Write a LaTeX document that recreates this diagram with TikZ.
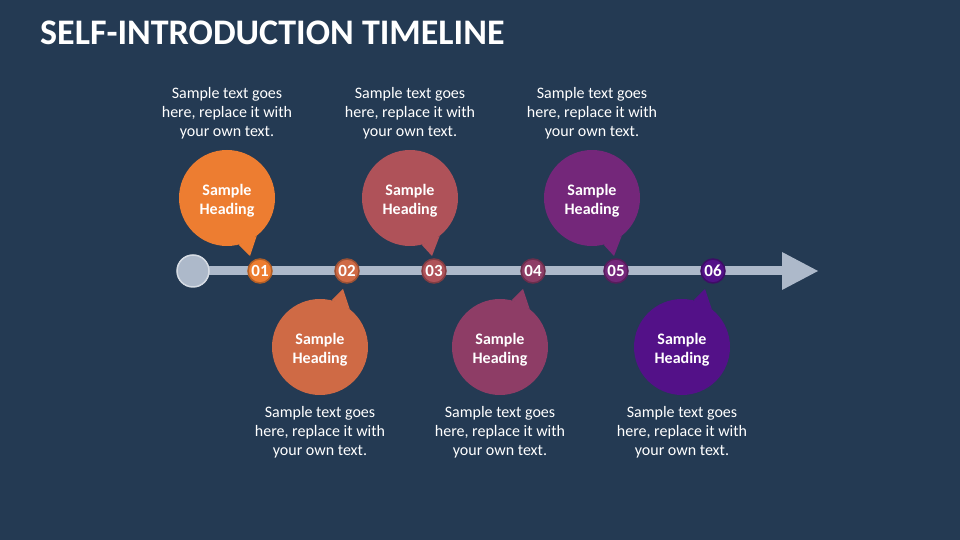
\documentclass[tikz,border=0pt]{standalone}
\usepackage{fontspec}
\setmainfont{Carlito}
\definecolor{bg}{HTML}{243A53}
\definecolor{bar}{HTML}{ADB9CA}
\definecolor{barlight}{HTML}{D6DCE4}
\definecolor{cA}{HTML}{ED7D31}
\definecolor{cB}{HTML}{CF6A45}
\definecolor{cC}{HTML}{AF5259}
\definecolor{cD}{HTML}{8E3D66}
\definecolor{cE}{HTML}{74277A}
\definecolor{cF}{HTML}{531188}
\tikzset{
  bubble/.style={circle, fill=#1, minimum size=96pt, inner sep=0pt},
  heading/.style={text=white, align=center, font=\bfseries\fontsize{16}{19}\selectfont, yshift=-3pt},
  numdot/.style={circle, fill=#1, draw=#1!75!black, line width=1.5pt, minimum size=24pt, inner sep=0pt, text=white, font=\bfseries\fontsize{17}{17}\selectfont},
  desc/.style={text=white, align=center, font=\fontsize{16}{19}\selectfont},
}
\begin{document}
\begin{tikzpicture}[x=1pt,y=1pt]
\fill[bg] (0,0) rectangle (960,540);
\useasboundingbox (0,0) rectangle (960,540);
\node[anchor=base west, text=white, font=\bfseries\fontsize{36}{40}\selectfont, inner sep=0pt] (title) at (40,495) {SELF-INTRODUCTION TIMELINE};

% timeline
\coordinate (arrbase) at (782,269);
\coordinate (arrtip) at (818,269);
\node[circle, minimum size=32pt, inner sep=0pt] (start) at (193,269) {};
\draw[bar, line width=9pt] (start.center) -- (arrbase);
\fill[bar] ([yshift=19pt]arrbase) -- (arrtip) -- ([yshift=-19pt]arrbase) -- cycle;
\node[circle, fill=bar, draw=barlight, line width=1.5pt, minimum size=32pt, inner sep=0pt] at (193,269) {};

% number dots
\node[numdot=cA] (n1) at (260,269) {01};
\node[numdot=cB] (n2) at (347,269) {02};
\node[numdot=cC] (n3) at (434,269) {03};
\node[numdot=cD] (n4) at (533,269) {04};
\node[numdot=cE] (n5) at (616,269) {05};
\node[numdot=cF] (n6) at (713,269) {06};

% top bubbles
\node[bubble=cA] (b1) at (227,342) {};
\node[bubble=cC] (b3) at (410,342) {};
\node[bubble=cE] (b5) at (592,342) {};
\coordinate (t1) at (250,284);
\coordinate (t3) at (432,284);
\coordinate (t5) at (614,284);
\fill[cA] (b1.-52) -- (t1) -- (b1.-76) -- cycle;
\fill[cC] (b3.-52) -- (t3) -- (b3.-76) -- cycle;
\fill[cE] (b5.-52) -- (t5) -- (b5.-76) -- cycle;

% bottom bubbles
\node[bubble=cB] (b2) at (320,193) {};
\node[bubble=cD] (b4) at (500,193) {};
\node[bubble=cF] (b6) at (682,193) {};
\coordinate (t2) at (343,251);
\coordinate (t4) at (523,251);
\coordinate (t6) at (705,251);
\fill[cB] (b2.52) -- (t2) -- (b2.76) -- cycle;
\fill[cD] (b4.52) -- (t4) -- (b4.76) -- cycle;
\fill[cF] (b6.52) -- (t6) -- (b6.76) -- cycle;

% headings
\foreach \b in {b1,b2,b3,b4,b5,b6}{
  \node[heading] (h\b) at (\b.center) {Sample\\Heading};
}

% descriptions
\node[desc] (d1) at (227,427) {Sample text goes\\here, replace it with\\your own text.};
\node[desc] (d3) at (410,427) {Sample text goes\\here, replace it with\\your own text.};
\node[desc] (d5) at (592,427) {Sample text goes\\here, replace it with\\your own text.};
\node[desc] (d2) at (320,108) {Sample text goes\\here, replace it with\\your own text.};
\node[desc] (d4) at (500,108) {Sample text goes\\here, replace it with\\your own text.};
\node[desc] (d6) at (682,108) {Sample text goes\\here, replace it with\\your own text.};
\end{tikzpicture}
\end{document}
